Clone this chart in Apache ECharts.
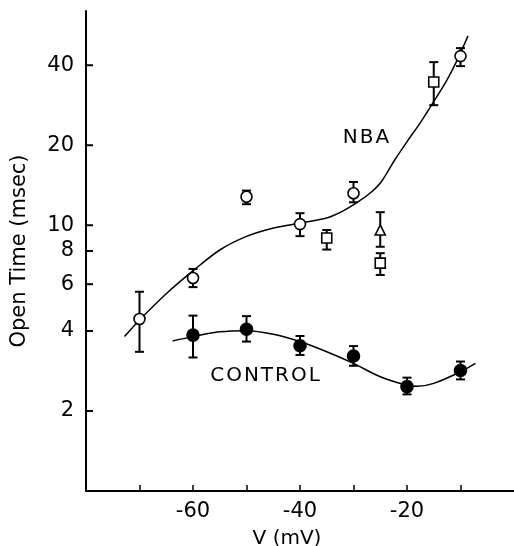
<!DOCTYPE html>
<html>
<head>
<meta charset="utf-8">
<script src="https://cdn.jsdelivr.net/npm/echarts@6/dist/echarts.min.js"></script>
<style>
  html, body { margin: 0; padding: 0; background: #fff; }
  #chart { width: 514px; height: 546px; }
</style>
</head>
<body>
<div id="chart"></div>
<script>
  // ==================== 数据 ====================

  // NBA 开放时间（空心圆）
  var nbaV  = [-70, -60, -50, -40, -30, -10];
  var nbaT  = [4.44, 6.33, 12.8, 10.1, 13.2, 43.3];
  var nbaLo = [3.34, 5.85, 12.0, 9.1, 12.2, 39.7];
  var nbaHi = [5.62, 6.85, 13.5, 11.1, 14.55, 46.4];

  // 方块
  var sqV  = [-35, -25, -15];
  var sqT  = [8.95, 7.2, 34.6];
  var sqLo = [8.1, 6.5, 28.3];
  var sqHi = [9.6, 7.85, 41.1];

  // 三角
  var triV  = [-25];
  var triT  = [9.6];
  var triLo = [8.3];
  var triHi = [11.2];

  // CONTROL（实心圆）
  var ctlV  = [-60, -50, -40, -30, -20, -10];
  var ctlT  = [3.86, 4.06, 3.52, 3.22, 2.47, 2.84];
  var ctlLo = [3.18, 3.65, 3.25, 2.96, 2.31, 2.63];
  var ctlHi = [4.57, 4.55, 3.83, 3.51, 2.67, 3.07];

  // 拟合曲线
  var nbaFitV = [-72.8, -70, -64.9, -59.8, -55, -50.1, -45.1, -40.2, -35.2, -32.2, -29.1, -26.6, -24.8, -22.3, -19.8, -17.4, -15.2, -12.7, -10.6, -8.6];
  var nbaFitT = [3.81, 4.4, 5.55, 6.79, 8.07, 9.06, 9.74, 10.17, 10.62, 11.25, 12.26, 13.37, 14.58, 17.6, 20.9, 24.5, 28.8, 34.7, 41.9, 51.6];
  var ctlFitV = [-63.8, -60, -55, -50, -45, -40, -35, -30, -25, -20, -18, -15, -10, -7.2];
  var ctlFitT = [3.67, 3.81, 3.97, 4.01, 3.89, 3.65, 3.34, 3.02, 2.69, 2.50, 2.48, 2.54, 2.81, 3.02];

  // 坐标轴刻度
  var xLabels = [-60, -40, -20];
  var yTicks  = [2, 4, 6, 8, 10, 20, 40];

  // ==================== 工具 ====================

  var FONT = 'DejaVu Sans';
  var HS = '\u200A';
  var X_MIN = -80;
  var X_MAX = 0;

  function zip(a, b) {
    return a.map(function (v, i) { return [v, b[i]]; });
  }

  function zip3(a, b, c) {
    return a.map(function (v, i) { return [v, b[i], c[i]]; });
  }

  function renderErr(params, api) {
    var x = api.value(0);
    var lo = api.coord([x, api.value(1)]);
    var hi = api.coord([x, api.value(2)]);
    var w = 4.5;
    var st = { stroke: '#000', lineWidth: 2 };
    return {
      type: 'group',
      children: [
        { type: 'line', shape: { x1: lo[0], y1: lo[1], x2: hi[0], y2: hi[1] }, style: st },
        { type: 'line', shape: { x1: lo[0] - w, y1: lo[1], x2: lo[0] + w, y2: lo[1] }, style: st },
        { type: 'line', shape: { x1: hi[0] - w, y1: hi[1], x2: hi[0] + w, y2: hi[1] }, style: st },
      ],
    };
  }

  function errSeries(v, lo, hi) {
    return {
      type: 'custom',
      renderItem: renderErr,
      data: zip3(v, lo, hi),
      encode: { x: 0, y: [1, 2] },
      z: 2,
      silent: true,
    };
  }

  function markSeries(v, t, symbol, size, fill) {
    return {
      type: 'scatter',
      data: zip(v, t),
      symbol: symbol,
      symbolSize: size,
      itemStyle: { color: fill, borderColor: '#000', borderWidth: 1.6, opacity: 1 },
      z: 3,
      silent: true,
    };
  }

  function fitSeries(v, t) {
    return {
      type: 'line',
      data: zip(v, t),
      smooth: 0.3,
      showSymbol: false,
      lineStyle: { color: '#000', width: 1.5 },
      z: 1,
      silent: true,
    };
  }

  // ==================== 图表 ====================

  var chart = echarts.init(document.getElementById('chart'), null, { renderer: 'canvas' });

  chart.setOption({
    animation: false,
    backgroundColor: '#fff',
    grid: { left: 86, right: 0, top: 11, bottom: 55, containLabel: false, outerBoundsMode: 'none' },
    xAxis: {
      type: 'value',
      min: X_MIN, max: X_MAX, interval: 10,
      name: 'V (mV)',
      nameLocation: 'middle',
      nameGap: 38,
      nameTextStyle: { fontFamily: FONT, fontSize: 20, color: '#000', padding: [0, 26, 0, 0] },
      axisLine: { show: true, onZero: false, lineStyle: { color: '#000', width: 2 } },
      axisTick: { show: true, inside: true, length: 6, lineStyle: { color: '#000', width: 1.5 } },
      axisLabel: {
        fontFamily: FONT, fontSize: 21, color: '#000', margin: 10,
        showMinLabel: false, showMaxLabel: false,
        formatter: function (v) { return xLabels.indexOf(v) >= 0 ? String(v) : ''; },
      },
      splitLine: { show: false },
    },
    yAxis: {
      type: 'log',
      logBase: 10,
      min: 1, max: 64,
      position: 'left',
      name: 'Open Time (msec)',
      nameLocation: 'middle',
      nameGap: 56,
      nameTextStyle: { fontFamily: FONT, fontSize: 21, color: '#000' },
      axisLine: { show: true, onZero: false, lineStyle: { color: '#000', width: 2 } },
      axisTick: { show: false },
      axisLabel: { customValues: yTicks, fontFamily: FONT, fontSize: 21, color: '#000', margin: 12 },
      splitLine: { show: false },
    },
    series: [
      fitSeries(nbaFitV, nbaFitT),
      fitSeries(ctlFitV, ctlFitT),
      errSeries(nbaV, nbaLo, nbaHi),
      errSeries(sqV, sqLo, sqHi),
      errSeries(triV, triLo, triHi),
      errSeries(ctlV, ctlLo, ctlHi),
      markSeries(nbaV, nbaT, 'circle', 11, '#fff'),
      markSeries(sqV, sqT, 'rect', 10, '#fff'),
      markSeries(triV, triT, 'triangle', 10, '#fff'),
      markSeries(ctlV, ctlT, 'circle', 12, '#000'),
    ],
  });

  // ==================== 文字与 Y 轴刻度 ====================

  // log 轴上 customValues 不画刻度，这里用 convertToPixel 换算后补画内向刻度
  function buildGraphic() {
    var items = [
      { type: 'text', id: 'lbl-nba', x: 366, y: 138, z: 10, style: { text: 'N' + HS + 'B' + HS + 'A', font: '20px "DejaVu Sans"', fill: '#000', align: 'center', verticalAlign: 'middle' } },
      { type: 'text', id: 'lbl-ctl', x: 265, y: 376, z: 10, style: { text: ['C', 'O', 'N', 'T', 'R', 'O', 'L'].join(HS), font: '20px "DejaVu Sans"', fill: '#000', align: 'center', verticalAlign: 'middle' } },
    ];
    yTicks.forEach(function (v, i) {
      var p = chart.convertToPixel({ gridIndex: 0 }, [X_MIN, v]);
      if (!p || isNaN(p[0]) || isNaN(p[1])) return;
      items.push({
        type: 'rect', id: 'ytick-' + i, z: 10,
        shape: { x: p[0], y: p[1] - 1, width: 7, height: 2 },
        style: { fill: '#000' },
        silent: true,
      });
    });
    chart.setOption({ graphic: items });
  }

  buildGraphic();

  window.addEventListener('resize', function () { chart.resize(); buildGraphic(); });
</script>
</body>
</html>
